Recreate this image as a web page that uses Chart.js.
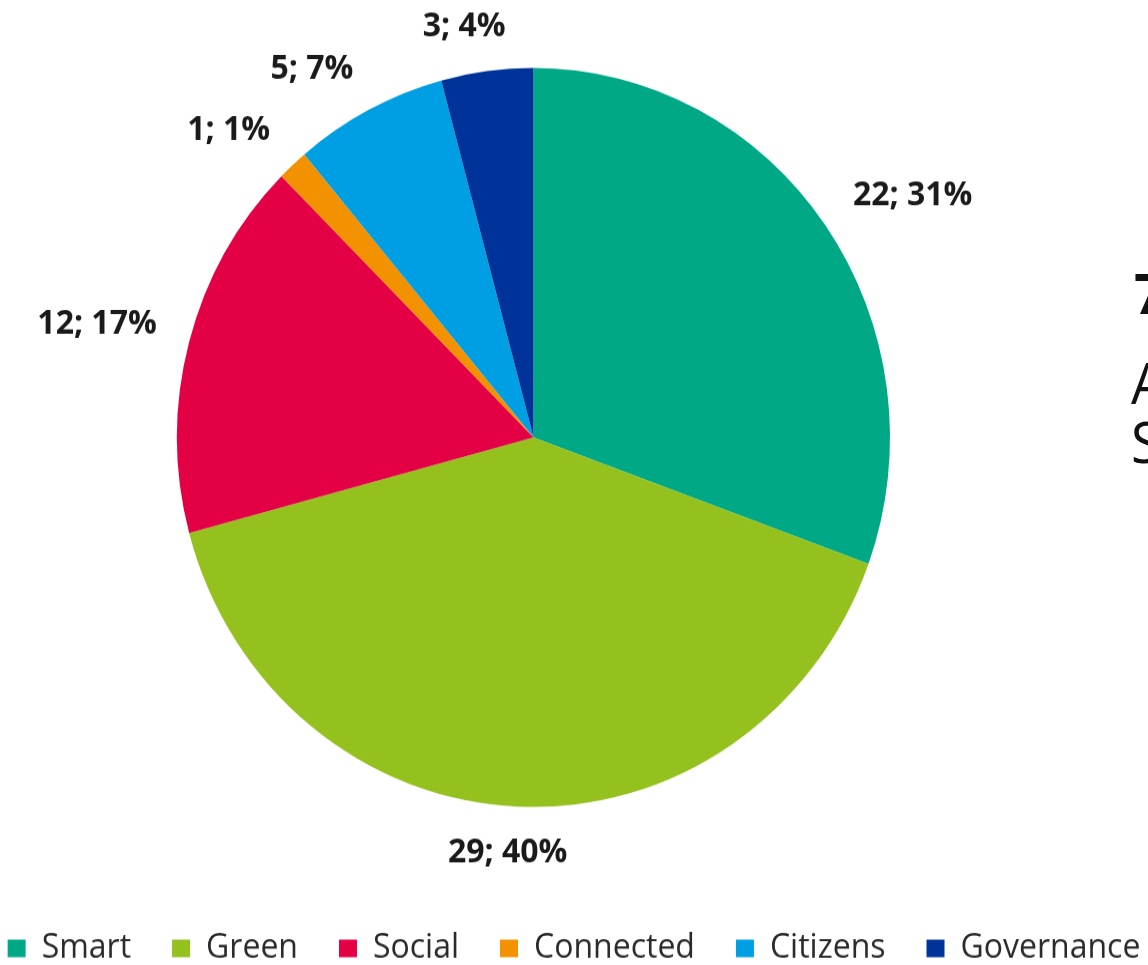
<!DOCTYPE html>
<html>
<head>
<meta charset="utf-8">
<script src="https://cdn.jsdelivr.net/npm/chart.js@4.4.1/dist/chart.umd.min.js"></script>
<style>
  html, body { margin: 0; padding: 0; background: #ffffff; overflow: hidden; }
  #page { position: relative; width: 1148px; height: 965px; overflow: hidden; }
  #wrap { position: absolute; left: 0; top: 0; width: 1148px; height: 931px;
          transform: scaleY(1.0365); transform-origin: 0 0; }
  #c { position: absolute; left: 0; top: 0; }
  .side { position: absolute; font-family: "Open Sans", sans-serif; font-size: 54px; color: #111; line-height: 1; white-space: nowrap; }
</style>
</head>
<body>
<div id="page">
<div id="wrap">
  <canvas id="c" width="1148" height="931"></canvas>
  <div class="side" style="left:1134px; top:255px; font-weight:700;">7</div>
  <div class="side" style="left:1131px; top:342px;">A</div>
  <div class="side" style="left:1131px; top:399px;">S</div>
</div>
</div>
<script>
// ---- data ----
const categories = ['Smart', 'Green', 'Social', 'Connected', 'Citizens', 'Governance'];
const counts = [22, 29, 12, 1, 5, 3];
const sliceColors = ['#00A886', '#95C11F', '#E30045', '#F39200', '#009FE3', '#00339A'];

// ---- layout (pie placement, canvas coordinates) ----
const PIE_CX = 533.5, PIE_CY = 422, PIE_R = 356.5;

const total = counts.reduce((a, b) => a + b, 0);

const placePie = {
  id: 'placePie',
  afterLayout(chart) {
    const a = chart.chartArea;
    a.left = PIE_CX - PIE_R; a.right = PIE_CX + PIE_R;
    a.top = PIE_CY - PIE_R; a.bottom = PIE_CY + PIE_R;
    a.width = 2 * PIE_R; a.height = 2 * PIE_R;
  }
};

const clamp1 = v => Math.max(-1, Math.min(1, v));

const outsideLabels = {
  id: 'outsideLabels',
  afterDatasetsDraw(chart) {
    const ctx = chart.ctx;
    const meta = chart.getDatasetMeta(0);
    const data = chart.data.datasets[0].data;
    ctx.save();
    ctx.font = '700 32px "Open Sans", sans-serif';
    ctx.fillStyle = '#1a1a1a';
    ctx.textAlign = 'center';
    ctx.textBaseline = 'middle';
    meta.data.forEach((arc, i) => {
      const p = arc.getProps(['x', 'y', 'startAngle', 'endAngle', 'outerRadius'], true);
      const mid = (p.startAngle + p.endAngle) / 2;
      const ux = Math.cos(mid), uy = Math.sin(mid);
      const v = data[i];
      const txt = v + '; ' + Math.round(v / total * 100) + '%';
      const w = ctx.measureText(txt).width;
      const R = p.outerRadius + 33.5;
      const x = p.x + ux * R + clamp1(ux * 3.4) * w / 2;
      const y = p.y + uy * R + clamp1(uy * 3.4) * 10;
      ctx.fillText(txt, x, y + 1);
    });
    ctx.restore();
  }
};

new Chart(document.getElementById('c'), {
  type: 'pie',
  data: {
    labels: categories,
    datasets: [{
      data: counts,
      backgroundColor: sliceColors,
      borderWidth: 0,
      hoverOffset: 0
    }]
  },
  options: {
    responsive: false,
    animation: false,
    devicePixelRatio: 1,
    layout: { padding: { bottom: -10, left: -35, right: -35 } },
    plugins: {
      tooltip: { enabled: false },
      legend: {
        position: 'bottom',
        labels: {
          boxWidth: 18,
          boxHeight: 17,
          padding: 41,
          color: '#2a2a2a',
          font: { family: '"Open Sans", sans-serif', size: 32 }
        }
      }
    }
  },
  plugins: [placePie, outsideLabels]
});
</script>
</body>
</html>
